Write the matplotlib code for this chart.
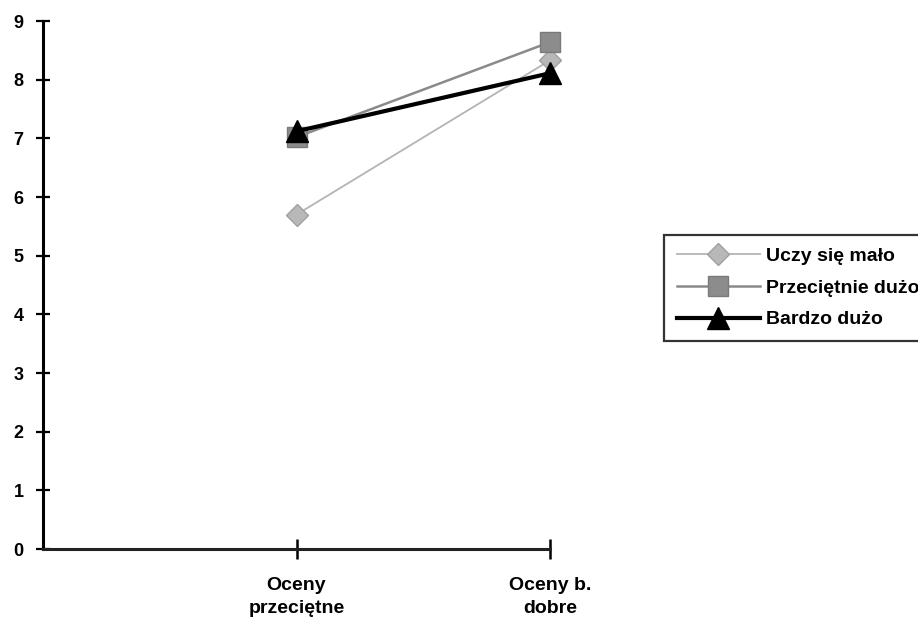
import numpy as np
from matplotlib import pyplot as plt

# category positions: 0 is the empty slot at the axis origin
categories = ["", "Oceny\nprzeciętne", "Oceny b.\ndobre"]
cat_pos = [1, 2]

series_names = ["Uczy się mało", "Przeciętnie dużo", "Bardzo dużo"]
uczy_malo = [5.7, 8.33]
przecietnie_duzo = [7.02, 8.64]
bardzo_duzo = [7.12, 8.11]

plt.rcParams['font.family'] = ['Liberation Sans', 'DejaVu Sans']
plt.rcParams['font.weight'] = 'bold'

fig = plt.figure(figsize=(9.18, 6.23), dpi=100)
ax = fig.add_axes([43/918, 1 - 549/623, (550 - 43)/918, (549 - 21)/623])

ax.plot(cat_pos, uczy_malo, color='#b4b4b4', lw=1.3, marker='D', ms=11,
        mfc='#b8b8b8', mec='#a0a0a0', label=series_names[0], zorder=3,
        clip_on=False)
ax.plot(cat_pos, przecietnie_duzo, color='#8a8a8a', lw=1.8, marker='s', ms=15,
        mfc='#8c8c8c', mec='#7a7a7a', label=series_names[1], zorder=4,
        clip_on=False)
ax.plot(cat_pos, bardzo_duzo, color='black', lw=3, marker='^', ms=16,
        mfc='black', mec='black', label=series_names[2], zorder=5,
        clip_on=False)

ax.set_xlim(0, 2)
ax.set_ylim(0, 9)
ax.set_yticks(np.arange(0, 10, 1))
ax.set_xticks([1, 2])
ax.set_xticklabels(categories[1:], fontsize=14, fontweight='bold', linespacing=1.5)
ax.tick_params(axis='y', labelsize=13, direction='inout', length=10, width=1.6, pad=9)
ax.tick_params(axis='x', direction='inout', length=14, width=1.8, pad=13)

for side in ['top', 'right']:
    ax.spines[side].set_visible(False)
for side in ['left', 'bottom']:
    ax.spines[side].set_linewidth(2.2)
ax.spines['bottom'].set_color('#222222')

leg = fig.legend(loc='upper left', bbox_to_anchor=(664/918, 1 - 235/623),
                 frameon=True, fancybox=False, edgecolor='black',
                 prop={'size': 14, 'weight': 'bold'}, handlelength=4.3,
                 borderpad=0.65, labelspacing=0.72, handletextpad=0.3,
                 borderaxespad=0)
leg.get_frame().set_linewidth(1.6)

fig.savefig('out.png', dpi=100)
